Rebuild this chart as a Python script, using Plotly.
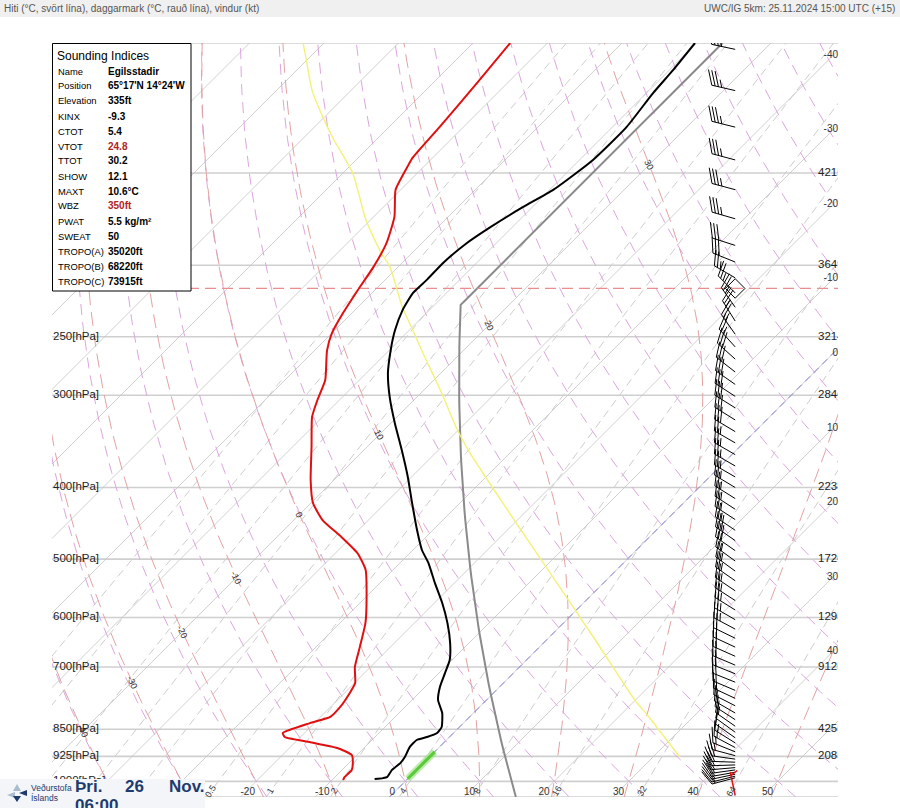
import numpy as np
import plotly.graph_objects as go

# ======================= DATA =======================
isobar_p = [100, 150, 200, 250, 300, 400, 500, 600, 700, 850, 925, 1000, 1050]
hpa_label_p = [150, 200, 250, 300, 400, 500, 600, 700, 850, 925, 1000]
height_p = [150, 200, 250, 300, 400, 500, 600, 700, 850, 925]
height_ft = ["42150", "36490", "32140", "28460", "22380", "17260", "12950", "9125", "4255", "2085"]

# temperature (black)
temp_p = [993, 990, 987, 965, 944, 927, 898, 879, 871, 860, 844, 808, 776, 745, 713,
          685, 650, 610, 573, 539, 506, 486, 457, 420, 387, 356, 327, 302, 280, 260,
          245, 230, 218, 209, 199, 187, 178, 167, 158, 144, 130, 117, 109, 100]
temp_T = [-4.4, -3.4, -3.0, -3.3, -3.1, -3.3, -4.0, -4.0, -3.0, -2.2, -2.4, -4.2, -6.5, -8.0, -9.2,
          -10.3, -12.5, -15.6, -19.0, -22.6, -26.2, -28.8, -32.1, -36.4, -40.5, -44.9, -49.5, -53.6, -57.1, -59.9,
          -61.9, -63.6, -64.5, -64.4, -64.5, -64.0, -63.0, -61.3, -59.5, -58.2, -58.1, -59.1, -59.5, -60.2]

# dew point (red)
dew_p = [996, 987, 965, 944, 921, 901, 885, 871, 860, 834, 818, 793, 759, 736, 700,
         658, 610, 563, 517, 491, 467, 443, 420, 391, 352, 321, 304, 286, 261, 247,
         232, 216, 201, 187, 172, 158, 147, 143, 130, 113, 100]
dew_T = [-8.5, -8.7, -8.7, -9.5, -10.7, -13.6, -18.0, -22.1, -22.9, -20.6, -18.7, -18.7, -19.3, -19.9, -22.1,
         -24.1, -26.6, -29.9, -33.7, -37.0, -41.3, -46.1, -49.7, -53.1, -57.5, -61.4, -63.0, -64.6, -68.3, -70.0,
         -71.2, -72.3, -73.3, -74.7, -77.2, -80.7, -82.2, -82.7, -83.2, -84.1, -85.0]

# yellow curve
yellow_p = [927, 813, 776, 643, 501, 416, 359, 334, 298, 263, 245, 228, 201, 192, 174, 150, 135, 126, 116, 105, 100]
yellow_T = [33.6, 23.6, 19.9, 6.5, -11.5, -24.9, -35.4, -40.2, -47.2, -55.1, -59.5, -64.0, -71.1, -74.3,
            -80.5, -88.7, -95.8, -100.2, -105.2, -110.3, -112.8]

# wet-bulb zero band (green) and 0 degC isotherm (blue)
wbz_p = [992, 912]
wbz_T = [0.0, 0.0]
zero_T = 0
tropo_p = 215

# winds (hPa, deg, kt)
wind_p = [102, 116, 130, 144, 158, 173, 188,
          198, 208, 218, 228, 238, 248,
          258, 268, 279, 290, 301, 312, 324, 336, 348, 361, 374, 387, 400,
          414, 428, 442, 457, 472, 487, 503, 519, 535, 552, 569,
          586, 604, 622, 640, 658, 677, 696, 715, 734, 753,
          772, 790, 808, 825, 842, 858, 873, 887, 900, 912, 923, 933, 942, 950, 958, 965, 972, 978, 984, 989]
wind_dir = [282, 283, 284, 285, 285, 286, 288,
            292, 300, 315, 325, 328, 325,
            318, 312, 308, 305, 303, 302, 302, 301, 300, 300, 300, 300, 301,
            302, 303, 303, 304, 305, 305, 306, 306, 305, 304, 303,
            302, 300, 298, 296, 295, 294, 293, 292, 292, 293,
            295, 297, 300, 303, 305, 306, 305, 302, 298, 292, 285, 278, 272, 268, 265, 262, 260, 258, 256, 255]
wind_kt = [36, 36, 35, 35, 34, 33, 32,
           30, 27, 25, 25, 25, 26,
           27, 28, 28, 29, 29, 29, 28, 28, 27, 27, 26, 26, 26,
           26, 26, 27, 27, 28, 28, 27, 27, 26, 25, 25,
           24, 24, 23, 22, 22, 21, 20, 19, 18, 17,
           16, 15, 14, 13, 13, 12, 12, 13, 14, 16, 17, 18, 19, 20, 20, 19, 18, 17, 16, 15]
sfc_wind_p, sfc_wind_dir, sfc_wind_kt = 1045, 348, 5

isotherm_T = list(range(-150, 60, 10))
dry_theta_C = list(range(-50, 190, 10))
moist_thw_C = list(range(-40, 60, 10))
mix_w = [0.01, 0.02, 0.05, 0.1, 0.2, 0.5, 1, 2, 4, 8, 16, 32, 64]
mix_w_labelled = [0.5, 1, 2, 4, 8, 16, 32, 64]
bottom_T_labels = list(range(-20, 60, 10))
right_T_labels = list(range(-40, 50, 10))
moist_label_T = -50

idx_names = ["Name", "Position", "Elevation", "KINX", "CTOT", "VTOT", "TTOT", "SHOW", "MAXT",
             "WBZ", "PWAT", "SWEAT", "TROPO(A)", "TROPO(B)", "TROPO(C)"]
idx_values = ["Egilsstadir", "65°17'N 14°24'W", "335ft", "-9.3", "5.4", "24.8", "30.2", "12.1", "10.6°C",
              "350ft", "5.5 kg/m²", "50", "35020ft", "68220ft", "73915ft"]
idx_red = ["VTOT", "WBZ"]

header_left = "Hiti (°C, svört lína), daggarmark (°C, rauð lína), vindur (kt)"
header_right = "UWC/IG 5km: 25.11.2024 15:00 UTC (+15)"
date_words = ["Þri.", "26", "Nov."]
time_text = "06:00"

# ======================= GEOMETRY =======================
W, H = 900, 808
L, R, TOP, BOT = 52, 838, 43, 797
P_BOT, P_TOP = 1050.0, 100.0
X0, X1 = -47.4, 58.1
KX = (R - L) / (X1 - X0)
KY = (BOT - TOP) / np.log(P_BOT / P_TOP)
SKEW = KY / KX
BARB_X = 44.3


def skx(T, p):
    return np.asarray(T, float) + SKEW * np.log(1000.0 / np.asarray(p, float))


def xd_px(px):
    return X0 + (px - L) / KX


def p_py(py):
    return P_BOT * np.exp(-(BOT - py) / KY)


def px_x(xd):
    return L + (xd - X0) * KX


def px_y(p):
    return BOT - np.log(P_BOT / p) * KY


def paper_x(px):
    return (px - L) / (R - L)


def paper_y(py):
    return (BOT - py) / (BOT - TOP)


def join(xs, ys):
    X, Y = [], []
    for a, b in zip(xs, ys):
        X += list(a) + [None]
        Y += list(b) + [None]
    return X, Y


# ---- thermodynamics
Rd, Cp, Lv, EPS = 287.04, 1005.7, 2.501e6, 0.622


def es(Tc):
    return 6.112 * np.exp(17.67 * Tc / (Tc + 243.5))


def dTdlnp(T, p):
    e = es(T - 273.15)
    rs = EPS * e / (p - e)
    return (Rd * T + Lv * rs) / (Cp + Lv * Lv * rs * EPS / (Rd * T * T))


def moist_path(thw):
    parts = []
    for target in (P_BOT, P_TOP):
        n = 160
        lp = np.linspace(np.log(1000.0), np.log(target), n)
        T = thw + 273.15
        Ts = [T]
        for i in range(n - 1):
            h = lp[i + 1] - lp[i]
            pa, pm, pb = np.exp(lp[i]), np.exp(lp[i] + h / 2), np.exp(lp[i + 1])
            k1 = dTdlnp(T, pa)
            k2 = dTdlnp(T + h / 2 * k1, pm)
            k3 = dTdlnp(T + h / 2 * k2, pm)
            k4 = dTdlnp(T + h * k3, pb)
            T = T + h / 6 * (k1 + 2 * k2 + 2 * k3 + k4)
            Ts.append(T)
        parts.append((np.exp(lp), np.array(Ts) - 273.15))
    p = np.concatenate([parts[0][0][::-1], parts[1][0][1:]])
    t = np.concatenate([parts[0][1][::-1], parts[1][1][1:]])
    return p, t


def td_of_w(w, p):
    e = w * p / (622.0 + w)
    g = np.log(e / 6.112)
    return 243.5 * g / (17.67 - g)


fig = go.Figure()
pgrid = np.exp(np.linspace(np.log(P_BOT), np.log(P_TOP), 80))

# isobars
xs, ys = join([[X0, X1]] * len(isobar_p), [[p, p] for p in isobar_p])
fig.add_trace(go.Scatter(x=xs, y=ys, mode="lines", line=dict(color="#cfcfcf", width=1.6), hoverinfo="skip"))

# isotherms
xs, ys = join([skx([t, t], [P_BOT, P_TOP]) for t in isotherm_T], [[P_BOT, P_TOP]] * len(isotherm_T))
fig.add_trace(go.Scatter(x=xs, y=ys, mode="lines", line=dict(color="#c4c4c4", width=0.8), hoverinfo="skip"))

# mixing ratio lines
xs, ys = join([skx(td_of_w(w, pgrid), pgrid) for w in mix_w], [pgrid] * len(mix_w))
fig.add_trace(go.Scatter(x=xs, y=ys, mode="lines", line=dict(color="#cdcdcd", width=1, dash="8px,5px"),
                         hoverinfo="skip"))

# dry adiabats
xs, ys = join([skx((th + 273.15) * (pgrid / 1000.0) ** (Rd / Cp) - 273.15, pgrid) for th in dry_theta_C],
              [pgrid] * len(dry_theta_C))
fig.add_trace(go.Scatter(x=xs, y=ys, mode="lines", line=dict(color="#dba6de", width=1, dash="11px,7px"),
                         hoverinfo="skip"))

# moist adiabats
mx, my, mlab = [], [], []
for thw in moist_thw_C:
    pp, tt = moist_path(thw)
    mx.append(skx(tt, pp))
    my.append(pp)
    idx = np.where(tt <= moist_label_T)[0]
    if len(idx) and pp[idx[0]] > P_TOP:
        i = idx[0]
        f = (moist_label_T - tt[i - 1]) / (tt[i] - tt[i - 1])
        pl = np.exp(np.log(pp[i - 1]) + f * (np.log(pp[i]) - np.log(pp[i - 1])))
        mlab.append((thw, pl))
xs, ys = join(mx, my)
fig.add_trace(go.Scatter(x=xs, y=ys, mode="lines", line=dict(color="#e3a2a2", width=1, dash="14px,7px"),
                         hoverinfo="skip"))

# 0 degC isotherm (blue dashed)
fig.add_trace(go.Scatter(x=skx([zero_T, zero_T], [P_BOT, P_TOP]), y=[P_BOT, P_TOP], mode="lines",
                         line=dict(color="#8080dd", width=1, dash="7px,5px"), hoverinfo="skip"))

# ICAO standard atmosphere (gray)
isa_p = np.sort(np.concatenate([pgrid, [226.32]]))[::-1]
isa_T = np.where(isa_p > 226.32, 288.15 * (isa_p / 1013.25) ** 0.190263 - 273.15, -56.5)
fig.add_trace(go.Scatter(x=skx(isa_T, isa_p), y=isa_p, mode="lines", line=dict(color="#8a8a8a", width=2),
                         hoverinfo="skip"))

# tropopause
fig.add_trace(go.Scatter(x=[X0, X1], y=[tropo_p, tropo_p], mode="lines",
                         line=dict(color="#e98d8d", width=1.2, dash="11px,6px"), hoverinfo="skip"))

# yellow curve
fig.add_trace(go.Scatter(x=skx(yellow_T, yellow_p), y=yellow_p, mode="lines",
                         line=dict(color="#f2f27a", width=1.4, shape="spline", smoothing=0.6), hoverinfo="skip"))

# green WBZ band
fig.add_trace(go.Scatter(x=skx(wbz_T, wbz_p), y=wbz_p, mode="lines",
                         line=dict(color="rgba(140,225,110,0.6)", width=7), hoverinfo="skip"))
fig.add_trace(go.Scatter(x=skx(wbz_T, wbz_p), y=wbz_p, mode="lines",
                         line=dict(color="#5cc83c", width=3), hoverinfo="skip"))

# dew point & temperature
fig.add_trace(go.Scatter(x=skx(dew_T, dew_p), y=dew_p, mode="lines",
                         line=dict(color="#e01010", width=2, shape="spline", smoothing=0.5), hoverinfo="skip"))
fig.add_trace(go.Scatter(x=skx(temp_T, temp_p), y=temp_p, mode="lines",
                         line=dict(color="#000000", width=2, shape="spline", smoothing=0.5), hoverinfo="skip"))


# wind barbs
def barb(p, d, spd, staff=24.0, flen=16.0, sp=3.4):
    bx, by = px_x(BARB_X), px_y(p)
    a = np.radians(d)
    ux, uy = np.sin(a), -np.cos(a)
    tx, ty = bx + staff * ux, by + staff * uy
    segs = [[(bx, by), (tx, ty)]]
    ang = np.radians(65)
    fx, fy = ux * np.cos(ang) - uy * np.sin(ang), ux * np.sin(ang) + uy * np.cos(ang)
    s = int(5 * round(spd / 5.0))
    nfull, half = s // 10, (s % 10) == 5
    pos = 0.0
    for _ in range(nfull):
        sx, sy = tx - pos * ux, ty - pos * uy
        segs.append([(sx, sy), (sx + flen * fx, sy + flen * fy)])
        pos += sp
    if half:
        if nfull == 0:
            pos = sp
        sx, sy = tx - pos * ux, ty - pos * uy
        segs.append([(sx, sy), (sx + flen / 2 * fx, sy + flen / 2 * fy)])
    X, Y = [], []
    for (x1, y1), (x2, y2) in segs:
        X += [xd_px(x1), xd_px(x2), None]
        Y += [p_py(y1), p_py(y2), None]
    return X, Y


bxs, bys = [], []
for p, d, s in zip(wind_p, wind_dir, wind_kt):
    a, b = barb(p, d, s)
    bxs += a
    bys += b
fig.add_trace(go.Scatter(x=bxs, y=bys, mode="lines", line=dict(color="#000000", width=1), hoverinfo="skip"))
a, b = barb(sfc_wind_p, sfc_wind_dir, sfc_wind_kt)
fig.add_trace(go.Scatter(x=a, y=b, mode="lines", line=dict(color="#e01010", width=1.5), hoverinfo="skip"))
fig.add_trace(go.Scatter(x=[BARB_X], y=[tropo_p], mode="markers",
                         marker=dict(symbol="diamond-open", size=15, color="#000000", line=dict(width=1)),
                         hoverinfo="skip"))

FONT = "Liberation Sans, Arial, sans-serif"
NARROW = "Liberation Sans Narrow, Liberation Sans, Arial"

# pressure labels (left)
fig.add_trace(go.Scatter(x=[xd_px(L + 1)] * len(hpa_label_p), y=hpa_label_p, mode="text",
                         text=[f"{p}[hPa]" for p in hpa_label_p], textposition="middle right",
                         textfont=dict(family=FONT, size=11.5, color="#222"), cliponaxis=False,
                         hoverinfo="skip"))
# height labels (right, clipped)
fig.add_trace(go.Scatter(x=[xd_px(818)] * len(height_p), y=height_p, mode="text", text=height_ft,
                         textposition="middle right", textfont=dict(family=FONT, size=11.5, color="#222"),
                         cliponaxis=True, hoverinfo="skip"))
# right temperature labels
rp = [1000.0 * np.exp(-(X1 - t) / SKEW) for t in right_T_labels]
fig.add_trace(go.Scatter(x=[X1] * len(rp), y=rp, mode="text", text=[str(t) for t in right_T_labels],
                         textposition="bottom left", textfont=dict(family=FONT, size=10, color="#333"),
                         cliponaxis=False, hoverinfo="skip"))
# bottom temperature labels
fig.add_trace(go.Scatter(x=skx(bottom_T_labels, [P_BOT] * len(bottom_T_labels)), y=[P_BOT] * len(bottom_T_labels),
                         mode="text", text=[str(t) for t in bottom_T_labels], textposition="top right",
                         textfont=dict(family=FONT, size=10, color="#333"), cliponaxis=False, hoverinfo="skip"))

shapes = []
annotations = []

# header
shapes.append(dict(type="rect", xref="paper", yref="paper", x0=paper_x(0), x1=paper_x(W),
                   y0=paper_y(0), y1=paper_y(17), fillcolor="#f0f0f0", line=dict(width=0), layer="below"))
annotations.append(dict(xref="paper", yref="paper", x=paper_x(2), y=paper_y(8), text=header_left,
                        showarrow=False, xanchor="left", yanchor="middle",
                        font=dict(family=NARROW, size=10, color="#555")))
annotations.append(dict(xref="paper", yref="paper", x=paper_x(897), y=paper_y(8), text=header_right,
                        showarrow=False, xanchor="right", yanchor="middle",
                        font=dict(family=NARROW, size=10, color="#555")))

# indices box
shapes.append(dict(type="rect", xref="paper", yref="paper", x0=paper_x(52.5), x1=paper_x(191),
                   y0=paper_y(291), y1=paper_y(43.5), fillcolor="#ffffff", line=dict(color="#000", width=1),
                   layer="above"))
annotations.append(dict(xref="paper", yref="paper", x=paper_x(55), y=paper_y(55.5), text="Sounding Indices",
                        showarrow=False, xanchor="left", yanchor="middle",
                        font=dict(family=FONT, size=12, color="#000")))
for i, (n, v) in enumerate(zip(idx_names, idx_values)):
    yy = 71 + 15 * i
    col = "#b22222" if n in idx_red else "#000"
    annotations.append(dict(xref="paper", yref="paper", x=paper_x(56), y=paper_y(yy), text=n,
                            showarrow=False, xanchor="left", yanchor="middle",
                            font=dict(family=FONT, size=9.4, color="#000")))
    annotations.append(dict(xref="paper", yref="paper", x=paper_x(106), y=paper_y(yy), text=f"<b>{v}</b>",
                            showarrow=False, xanchor="left", yanchor="middle",
                            font=dict(family=FONT, size=10, color=col)))

# mixing ratio labels (rotated)
for w in mix_w_labelled:
    xd = float(skx(td_of_w(w, P_BOT), P_BOT))
    annotations.append(dict(xref="paper", yref="paper", x=paper_x(px_x(xd) + 4), y=paper_y(791),
                            text=("%g" % w), showarrow=False, textangle=-58, xanchor="center", yanchor="middle",
                            font=dict(family=FONT, size=9, color="#333")))
# moist adiabat labels
for thw, pl in mlab:
    xd = float(skx(moist_label_T, pl))
    annotations.append(dict(x=xd, y=np.log10(pl), xref="x", yref="y", text=str(thw), showarrow=False,
                            textangle=65, font=dict(family=FONT, size=9, color="#333")))

# logo box
shapes.append(dict(type="rect", xref="paper", yref="paper", x0=paper_x(0), x1=paper_x(205),
                   y0=paper_y(808), y1=paper_y(779), fillcolor="#f3f5f8", line=dict(width=0), layer="above"))


def tri(pts, color):
    d = "M " + " L ".join(f"{paper_x(x)},{paper_y(y)}" for x, y in pts) + " Z"
    return dict(type="path", xref="paper", yref="paper", path=d, fillcolor=color, line=dict(width=0),
                layer="above")


shapes.append(tri([(17, 784), (13, 791), (21, 791)], "#a9bccf"))
shapes.append(tri([(19, 793), (27, 790), (27, 796)], "#1e3b6e"))
shapes.append(tri([(7, 795), (15, 792), (15, 798)], "#a9bccf"))
shapes.append(tri([(17, 802), (13, 796), (21, 796)], "#1e3b6e"))
annotations.append(dict(xref="paper", yref="paper", x=paper_x(29), y=paper_y(788), text="Veðurstofa",
                        showarrow=False, xanchor="left", yanchor="middle",
                        font=dict(family=NARROW, size=8.5, color="#1e3b6e")))
annotations.append(dict(xref="paper", yref="paper", x=paper_x(29), y=paper_y(798), text="Íslands",
                        showarrow=False, xanchor="left", yanchor="middle",
                        font=dict(family=NARROW, size=8.5, color="#1e3b6e")))
for wd, xx in zip(date_words, [73, 123, 167]):
    annotations.append(dict(xref="paper", yref="paper", x=paper_x(xx), y=paper_y(786), text=f"<b>{wd}</b>",
                            showarrow=False, xanchor="left", yanchor="middle",
                            font=dict(family=FONT, size=17, color="#1e3b6e")))
annotations.append(dict(xref="paper", yref="paper", x=paper_x(73), y=paper_y(805), text=f"<b>{time_text}</b>",
                        showarrow=False, xanchor="left", yanchor="middle",
                        font=dict(family=FONT, size=17, color="#1e3b6e")))

fig.update_layout(
    width=W, height=H, autosize=False,
    margin=dict(l=L, r=W - R, t=TOP, b=H - BOT, pad=0),
    paper_bgcolor="#ffffff", plot_bgcolor="#ffffff",
    showlegend=False,
    xaxis=dict(range=[X0, X1], showgrid=False, zeroline=False, showticklabels=False, showline=False,
               ticks="", fixedrange=True),
    yaxis=dict(type="log", range=[np.log10(P_BOT), np.log10(P_TOP)], showgrid=False, zeroline=False,
               showticklabels=False, showline=False, ticks="", fixedrange=True),
    shapes=shapes, annotations=annotations,
)
fig.write_html("out.html", config={"displayModeBar": False, "staticPlot": True},
               post_script="document.body.style.margin='0px';document.body.style.padding='0px';"
                           "document.body.style.overflow='hidden';")
